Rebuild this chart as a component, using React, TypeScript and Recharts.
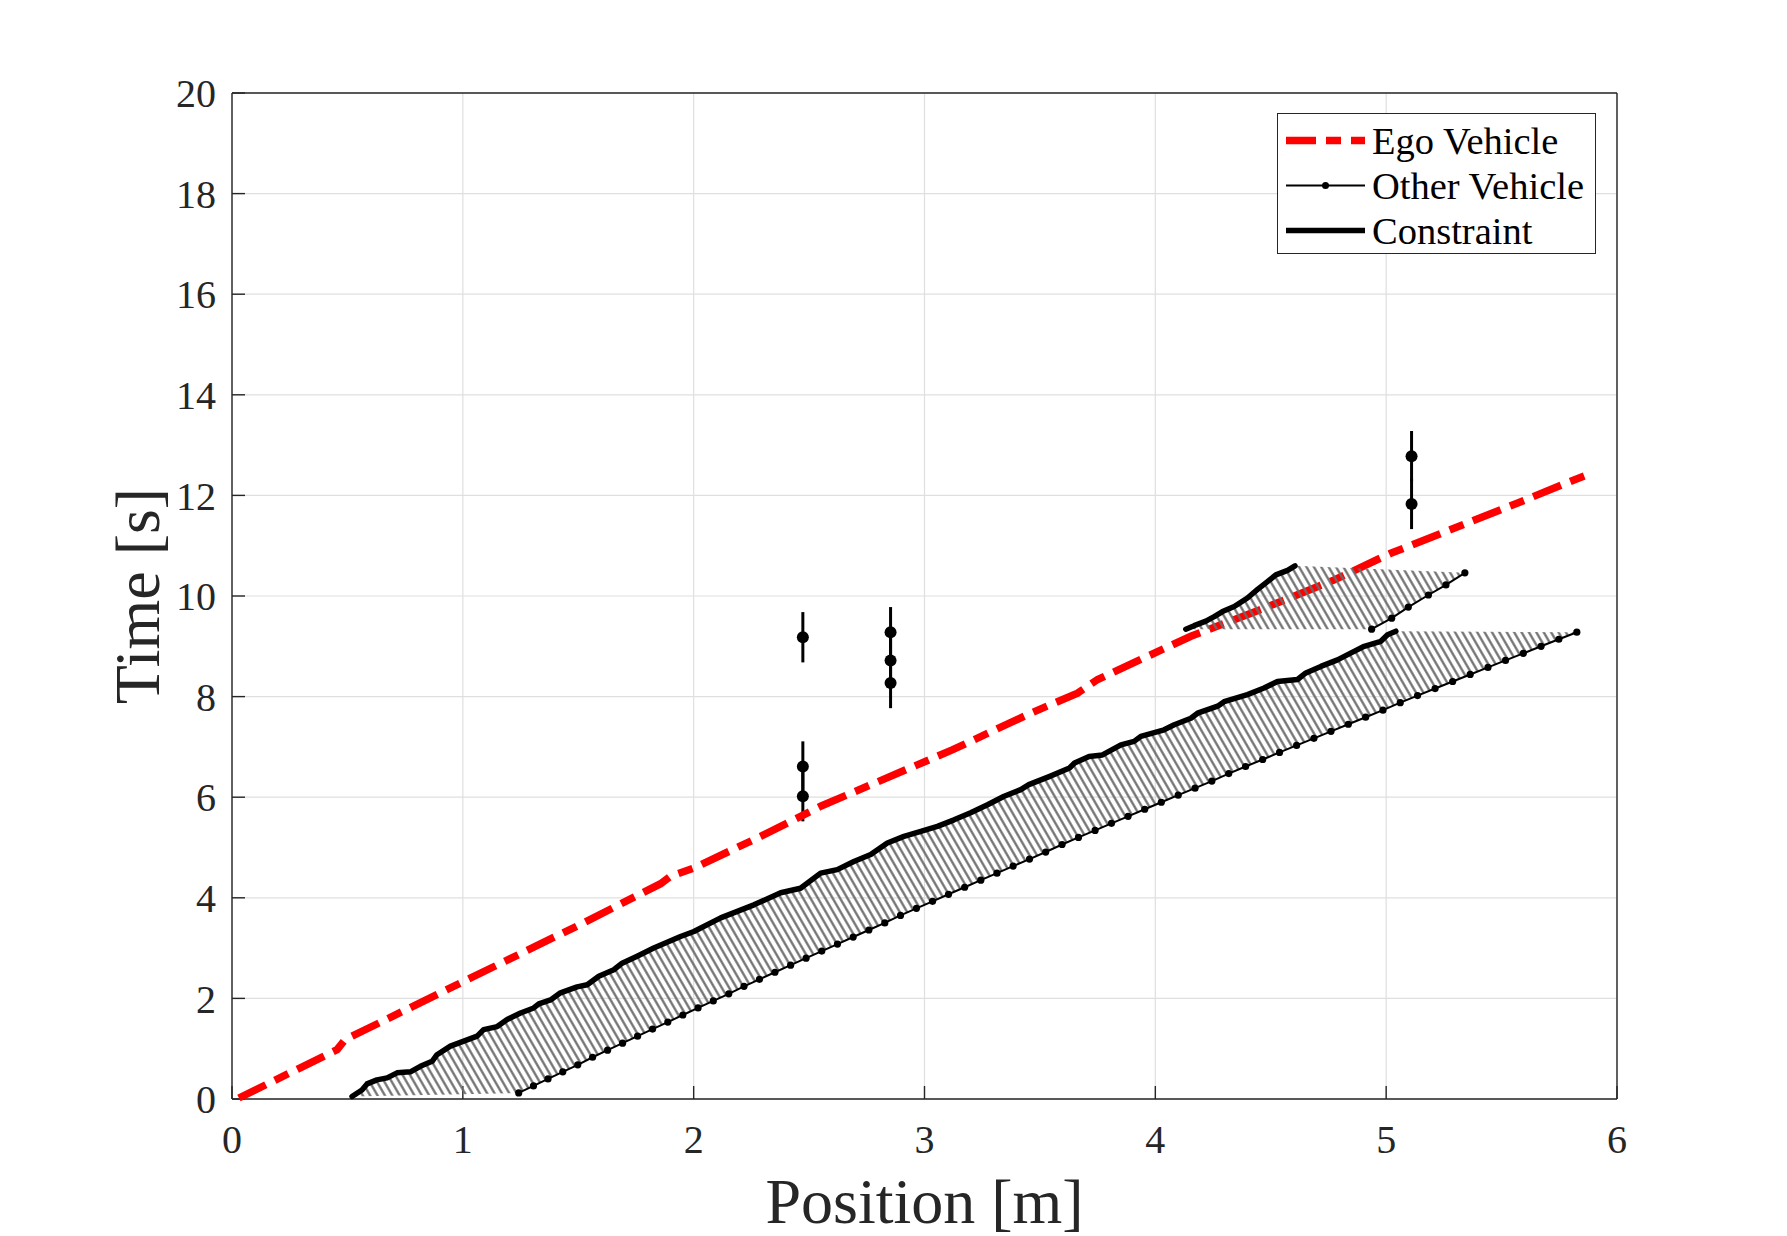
import React from 'react';
import { ComposedChart, Scatter, XAxis, YAxis, CartesianGrid, ErrorBar, Legend } from 'recharts';

const xTicks = [0, 1, 2, 3, 4, 5, 6];
const yTicks = [0, 2, 4, 6, 8, 10, 12, 14, 16, 18, 20];

// all series are [position (m), time (s)]
const egoVehicle = [
  [0.03, 0.02], [0.455, 0.98], [0.49, 1.18], [1.0, 2.33], [1.5, 3.45], [1.857, 4.28],
  [1.9, 4.43], [2.0, 4.59], [2.29, 5.22], [2.55, 5.82], [3.12, 6.94], [3.46, 7.67],
  [3.663, 8.07], [3.75, 8.34], [4.154, 9.2], [4.457, 9.73], [4.775, 10.32], [5.02, 10.85],
  [5.28, 11.32], [5.57, 11.85], [5.8, 12.28], [5.895, 12.45],
];

const constraintLow = [
  [0.52, 0.05], [0.563, 0.18], [0.585, 0.3], [0.628, 0.38], [0.672, 0.42], [0.715, 0.52],
  [0.773, 0.54], [0.816, 0.65], [0.867, 0.75], [0.888, 0.88], [0.946, 1.05], [1.004, 1.15],
  [1.062, 1.25], [1.09, 1.38], [1.149, 1.44], [1.192, 1.58], [1.25, 1.71], [1.307, 1.81],
  [1.329, 1.89], [1.38, 1.97], [1.423, 2.11], [1.495, 2.23], [1.539, 2.27], [1.589, 2.44],
  [1.654, 2.57], [1.69, 2.7], [1.755, 2.84], [1.827, 3.0], [1.943, 3.23], [2.001, 3.33],
  [2.117, 3.6], [2.261, 3.86], [2.377, 4.1], [2.463, 4.19], [2.55, 4.49], [2.622, 4.56],
  [2.694, 4.72], [2.767, 4.86], [2.839, 5.09], [2.911, 5.22], [2.984, 5.32], [3.056, 5.42],
  [3.128, 5.55], [3.2, 5.69], [3.273, 5.85], [3.345, 6.02], [3.417, 6.15], [3.452, 6.25],
  [3.54, 6.41], [3.628, 6.58], [3.65, 6.68], [3.713, 6.81], [3.771, 6.84], [3.851, 7.04],
  [3.908, 7.11], [3.937, 7.21], [4.038, 7.34], [4.082, 7.44], [4.154, 7.57], [4.183, 7.67],
  [4.27, 7.81], [4.298, 7.9], [4.399, 8.04], [4.471, 8.17], [4.529, 8.3], [4.616, 8.34],
  [4.652, 8.47], [4.717, 8.6], [4.789, 8.73], [4.861, 8.9], [4.905, 9.0], [4.977, 9.1],
  [5.006, 9.23], [5.042, 9.3],
];

const otherVehicleLow = [
  [1.242, 0.12], [1.306, 0.26], [1.369, 0.4], [1.433, 0.54], [1.498, 0.68], [1.562, 0.83],
  [1.627, 0.97], [1.692, 1.11], [1.757, 1.25], [1.822, 1.39], [1.888, 1.53], [1.953, 1.67],
  [2.019, 1.81], [2.085, 1.95], [2.152, 2.09], [2.218, 2.24], [2.285, 2.38], [2.352, 2.52],
  [2.42, 2.66], [2.487, 2.8], [2.555, 2.94], [2.623, 3.08], [2.691, 3.22], [2.759, 3.36],
  [2.828, 3.5], [2.896, 3.65], [2.965, 3.79], [3.035, 3.93], [3.104, 4.07], [3.174, 4.21],
  [3.244, 4.35], [3.314, 4.49], [3.384, 4.63], [3.455, 4.77], [3.525, 4.91], [3.596, 5.06],
  [3.667, 5.2], [3.739, 5.34], [3.81, 5.48], [3.882, 5.62], [3.954, 5.76], [4.026, 5.9],
  [4.099, 6.04], [4.172, 6.18], [4.245, 6.32], [4.318, 6.47], [4.391, 6.61], [4.465, 6.75],
  [4.538, 6.89], [4.612, 7.03], [4.687, 7.17], [4.761, 7.31], [4.836, 7.45], [4.911, 7.59],
  [4.986, 7.73], [5.061, 7.88], [5.136, 8.02], [5.212, 8.16], [5.288, 8.3], [5.364, 8.44],
  [5.441, 8.58], [5.517, 8.72], [5.594, 8.86], [5.671, 9.0], [5.748, 9.14], [5.826, 9.28],
];

const constraintHigh = [
  [4.132, 9.34], [4.168, 9.41], [4.219, 9.5], [4.255, 9.59], [4.291, 9.69], [4.342, 9.79],
  [4.399, 9.96], [4.443, 10.13], [4.479, 10.26], [4.522, 10.42], [4.573, 10.51], [4.605, 10.6],
];

const otherVehicleHigh = [
  [4.937, 9.34], [5.024, 9.56], [5.096, 9.78], [5.183, 10.02], [5.259, 10.22], [5.341, 10.46],
];

const detections = [
  [2.473, 9.18], [2.473, 6.61], [2.473, 6.02],
  [2.853, 9.28], [2.853, 8.72], [2.853, 8.27],
  [5.11, 12.78], [5.11, 11.83],
];
const detectionSpread = 0.5;

const legendNames = ['Ego Vehicle', 'Other Vehicle', 'Constraint'];

const toRows = (pts: number[][]) => pts.map(([x, t]) => ({ x, t }));

const egoRows = toRows(egoVehicle);
const consLowRows = toRows(constraintLow);
const otherLowRows = toRows(otherVehicleLow);
const consHighRows = toRows(constraintHigh);
const otherHighRows = toRows(otherVehicleHigh);
// hatched zone = constraint edge, then other vehicle edge walked backwards
const lowBand = toRows([...constraintLow, ...otherVehicleLow.slice().reverse()]);
const highBand = toRows([...constraintHigh, ...otherVehicleHigh.slice().reverse()]);
const detectionRows = detections.map(([x, t]) => ({ x, t, err: detectionSpread }));

const FONT = "'Times New Roman', 'Liberation Serif', serif";
const INK = '#262626';
const RED = '#ff0000';
const DASH = '30 10 15 10';

const NoDot = () => null;
const SmallDot = (p: any) => <circle cx={p.cx} cy={p.cy} r={3.6} fill="#000" />;
const BigDot = (p: any) => <circle cx={p.cx} cy={p.cy} r={6} fill="#000" />;

const renderLegend = () => (
  <div style={{ width: 319, height: 141, boxSizing: 'border-box', border: `1.3px solid ${INK}`, background: '#fff' }}>
    <svg width={317} height={139} style={{ display: 'block' }}>
      <line x1={8} x2={87} y1={26.5} y2={26.5} stroke={RED} strokeWidth={7.5} strokeDasharray={DASH} />
      <line x1={8} x2={87} y1={71.5} y2={71.5} stroke="#000" strokeWidth={2} />
      <circle cx={47.5} cy={71.5} r={3.5} fill="#000" />
      <line x1={8} x2={87} y1={116.5} y2={116.5} stroke="#000" strokeWidth={5.5} />
      {legendNames.map((name, i) => (
        <text key={name} x={94} y={39.5 + i * 45} fontSize={38.5} fontFamily={FONT} fill="#000">
          {name}
        </text>
      ))}
    </svg>
  </div>
);

const axisLine = { stroke: INK, strokeWidth: 1.4 };
const tickStyle = { fill: INK, fontSize: 40, fontFamily: FONT };

export default function App() {
  return (
    <div>
      <style>{'body{margin:0}'}</style>
      <ComposedChart width={1787} height={1236} margin={{ top: 73, right: 150, bottom: 37, left: 41 }}>
        <defs>
          <pattern id="hatch" patternUnits="userSpaceOnUse" width={6.4} height={6.4} patternTransform="rotate(-30)">
            <line x1={3.2} y1={-1} x2={3.2} y2={7.4} stroke="#6b6b6b" strokeWidth={2.2} />
          </pattern>
        </defs>
        <CartesianGrid stroke="#dfdfdf" strokeWidth={1.2} />
        <XAxis
          type="number"
          dataKey="x"
          domain={[0, 6]}
          ticks={xTicks}
          interval={0}
          height={100}
          tickSize={-13}
          tickMargin={39}
          axisLine={axisLine}
          tickLine={axisLine}
          tick={tickStyle}
          label={{ value: 'Position [m]', position: 'insideBottom', offset: -24, fill: INK, fontSize: 64, fontFamily: FONT }}
        />
        <YAxis
          type="number"
          dataKey="t"
          domain={[0, 20]}
          ticks={yTicks}
          interval={0}
          width={191}
          tickSize={-13}
          tickMargin={29}
          axisLine={axisLine}
          tickLine={axisLine}
          tick={tickStyle}
          label={{ value: 'Time [s]', angle: -90, position: 'center', fill: INK, fontSize: 64, fontFamily: FONT }}
        />
        <XAxis
          xAxisId="top"
          orientation="top"
          type="number"
          domain={[0, 6]}
          ticks={xTicks}
          interval={0}
          height={20}
          tickSize={-13}
          tickFormatter={() => ''}
          axisLine={axisLine}
          tickLine={axisLine}
        />
        <YAxis
          yAxisId="right"
          orientation="right"
          type="number"
          domain={[0, 20]}
          ticks={yTicks}
          interval={0}
          width={20}
          tickSize={-13}
          tickFormatter={() => ''}
          axisLine={axisLine}
          tickLine={axisLine}
        />
        <Scatter data={egoRows} shape={NoDot} line={{ stroke: RED, strokeWidth: 7.5, strokeDasharray: DASH }} isAnimationActive={false} />
        <Scatter data={lowBand} shape={NoDot} line={{ fill: 'url(#hatch)', stroke: 'none' }} isAnimationActive={false} />
        <Scatter data={highBand} shape={NoDot} line={{ fill: 'url(#hatch)', stroke: 'none' }} isAnimationActive={false} />
        <Scatter data={consLowRows} shape={NoDot} line={{ stroke: '#000', strokeWidth: 5.5, strokeLinejoin: 'round', strokeLinecap: 'round' }} isAnimationActive={false} />
        <Scatter data={consHighRows} shape={NoDot} line={{ stroke: '#000', strokeWidth: 5.5, strokeLinejoin: 'round', strokeLinecap: 'round' }} isAnimationActive={false} />
        <Scatter data={otherLowRows} shape={SmallDot} line={{ stroke: '#000', strokeWidth: 2 }} isAnimationActive={false} />
        <Scatter data={otherHighRows} shape={SmallDot} line={{ stroke: '#000', strokeWidth: 2 }} isAnimationActive={false} />
        <Scatter data={detectionRows} shape={BigDot} isAnimationActive={false}>
          <ErrorBar dataKey="err" direction="y" width={0} stroke="#000" strokeWidth={3} />
        </Scatter>
        <Legend
          layout="horizontal"
          verticalAlign="middle"
          align="center"
          content={renderLegend}
          wrapperStyle={{ left: 1277, top: 113, width: 319, height: 141 }}
        />
      </ComposedChart>
    </div>
  );
}
